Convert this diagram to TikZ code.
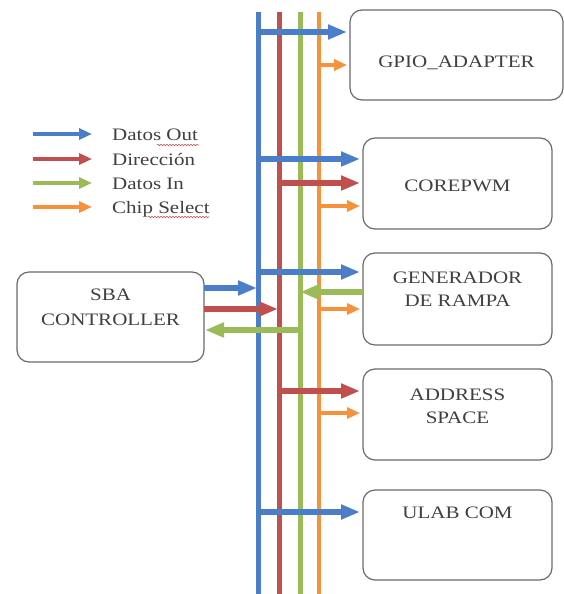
\documentclass[tikz,border=0pt]{standalone}
\usepackage{fontspec}
\setmainfont{Liberation Serif}[FakeStretch=1.2]
\usetikzlibrary{arrows.meta,decorations.pathmorphing}
\definecolor{cblue}{HTML}{4A7EC8}
\definecolor{cred}{HTML}{C0504D}
\definecolor{cgreen}{HTML}{9BBB59}
\definecolor{corange}{HTML}{F7923A}
\definecolor{boxgray}{HTML}{6A6A6A}
\definecolor{txtgray}{HTML}{404040}
\begin{document}
\begin{tikzpicture}[x=1pt,y=-1pt,
  box/.style={draw=boxgray, line width=1.2pt, rounded corners=12pt, minimum width=189pt, minimum height=91pt, inner sep=0pt, outer sep=0pt},
  lbl/.style={text=txtgray, font=\fontsize{17.5}{23}\selectfont, inner sep=0pt, anchor=base},
  leg/.style={text=txtgray, font=\fontsize{17.5}{23}\selectfont, inner sep=0pt, anchor=base west},
  bus/.style={line width=5pt},
  big/.style={line width=6pt, -{Triangle[length=19pt,width=14pt]}},
  small/.style={line width=4.5pt, -{Triangle[length=13pt,width=11pt]}},
  spell/.style={cred, line width=0.6pt, decorate, decoration={snake, segment length=3pt, amplitude=0.7pt}}
]
\useasboundingbox (0,0) rectangle (564,594);
\fill[white] (0,0) rectangle (564,594);

% boxes
\node[box, minimum width=213pt, minimum height=90pt] (gpio) at (456.5,55) {};
\node[box] (pwm) at (457.5,183.5) {};
\node[box, minimum height=92pt] (gen) at (457.5,299) {};
\node[box] (addr) at (457.5,414.5) {};
\node[box, minimum height=90pt] (ulab) at (457.5,535) {};
\node[box, minimum width=187pt, minimum height=90pt] (sba) at (110.5,317) {};

% box texts
\node[lbl] (gpiot) at (gpio.center |- 0,67) {GPIO\_ADAPTER};
\node[lbl] (pwmt) at (pwm.center |- 0,191) {COREPWM};
\node[lbl] (gent1) at (gen.center |- 0,283) {GENERADOR};
\node[lbl] (gent2) at (gen.center |- 0,306) {DE RAMPA};
\node[lbl] (addrt1) at (addr.center |- 0,400) {ADDRESS};
\node[lbl] (addrt2) at (addr.center |- 0,423) {SPACE};
\node[lbl] (ulabt) at (ulab.center |- 0,518) {ULAB COM};
\node[lbl] (sbat1) at (sba.center |- 0,300) {SBA};
\node[lbl] (sbat2) at (sba.center |- 0,325) {CONTROLLER};

% bus lines
\coordinate (bB) at (258,12);  \coordinate (bBe) at (258,594);
\coordinate (rB) at (279,12);  \coordinate (rBe) at (279,594);
\coordinate (gB) at (300,12);  \coordinate (gBe) at (300,594);
\coordinate (oB) at (319,12);  \coordinate (oBe) at (319,594);
\draw[bus,cblue] (bB) -- (bBe);
\draw[bus,cred] (rB) -- (rBe);
\draw[bus,cgreen] (gB) -- (gBe);
\draw[bus,corange,line width=4.5pt] (oB) -- (oBe);

% GPIO
\draw[big,cblue,shorten >=3pt] (bB |- 0,32) -- (gpio.west |- 0,32);
\draw[small,corange,shorten >=3pt] (oB |- 0,65) -- (gpio.west |- 0,65);
% COREPWM
\draw[big,cblue,shorten >=3pt] (bB |- 0,159) -- (pwm.west |- 0,159);
\draw[big,cred,shorten >=3pt] (rB |- 0,183) -- (pwm.west |- 0,183);
\draw[small,corange,shorten >=3pt] (oB |- 0,206) -- (pwm.west |- 0,206);
% GENERADOR
\draw[big,cblue,shorten >=3pt] (bB |- 0,272) -- (gen.west |- 0,272);
\draw[big,cgreen] (gen.west |- 0,292) -- (gB |- 0,292);
\draw[small,corange,shorten >=3pt] (oB |- 0,309) -- (gen.west |- 0,309);
% ADDRESS
\draw[big,cred,shorten >=3pt] (rB |- 0,391) -- (addr.west |- 0,391);
\draw[small,corange,shorten >=3pt] (oB |- 0,413) -- (addr.west |- 0,413);
% ULAB
\draw[big,cblue,shorten >=3pt] (bB |- 0,512) -- (ulab.west |- 0,512);
% SBA
\draw[big,cblue,shorten >=1pt] (sba.east |- 0,288) -- (bB |- 0,288);
\draw[big,cred,shorten >=1pt] (sba.east |- 0,309) -- (rB |- 0,309);
\draw[big,cgreen,shorten >=1pt] (gB |- 0,330) -- (sba.east |- 0,330);

% legend
\coordinate (l1a) at (33,134); \coordinate (l1b) at (92,134);
\coordinate (l2a) at (33,159); \coordinate (l2b) at (92,159);
\coordinate (l3a) at (33,183); \coordinate (l3b) at (92,183);
\coordinate (l4a) at (33,207); \coordinate (l4b) at (92,207);
\draw[small,cblue] (l1a) -- (l1b);
\draw[small,cred] (l2a) -- (l2b);
\draw[small,cgreen] (l3a) -- (l3b);
\draw[small,corange] (l4a) -- (l4b);
\node[leg] (t1) at (112,140) {Datos Out};
\node[leg] (t2) at (112,165) {Dirección};
\node[leg] (t3) at (112,189) {Datos In};
\node[leg] (t4) at (112,213) {Chip Select};
\coordinate (s1a) at (157,145); \coordinate (s1b) at (199,145);
\coordinate (s2a) at (148,217); \coordinate (s2b) at (209,217);
\draw[spell] (s1a) -- (s1b);
\draw[spell] (s2a) -- (s2b);
\end{tikzpicture}
\end{document}
